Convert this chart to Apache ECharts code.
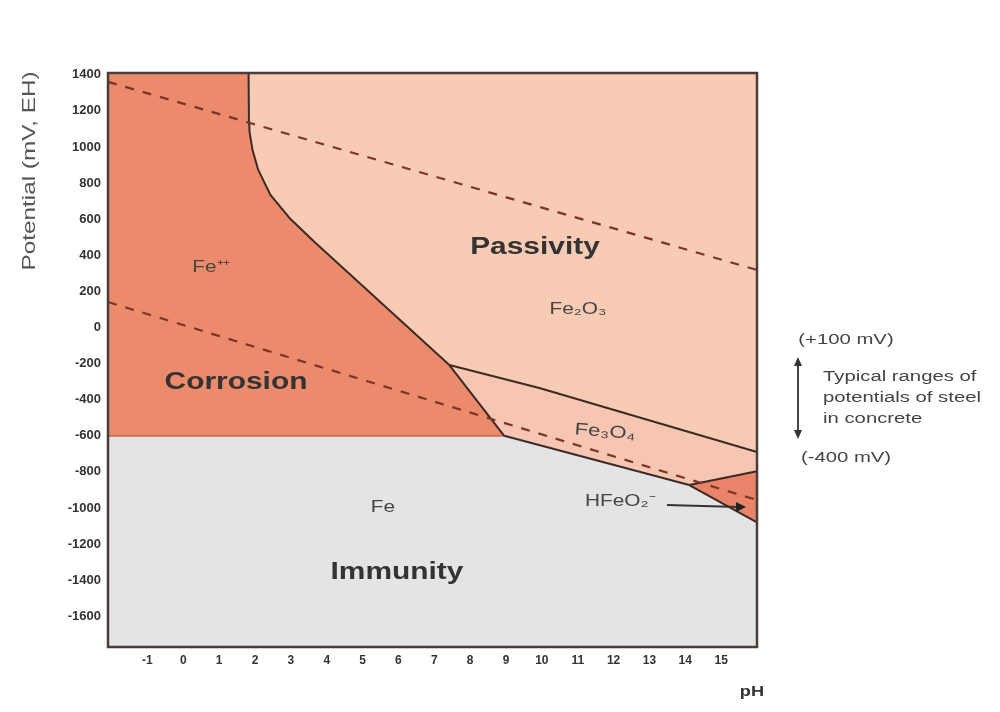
<!DOCTYPE html>
<html>
<head>
<meta charset="utf-8">
<script src="https://cdn.jsdelivr.net/npm/echarts@6/dist/echarts.min.js"></script>
<style>html,body{margin:0;padding:0;background:#fff;}#c{width:1000px;height:712px;}</style>
</head>
<body>
<div id="c"></div>
<script>
// ---- data (pH, potential mV) ----
const pHRange = [-2.1, 16];
const eRange = [-1770, 1410];
const xTicks = [-1, 0, 1, 2, 3, 4, 5, 6, 7, 8, 9, 10, 11, 12, 13, 14, 15];
const yTicks = [-1600, -1400, -1200, -1000, -800, -600, -400, -200, 0, 200, 400, 600, 800, 1000, 1200, 1400];
// Fe++ / oxides boundary (from top edge down to Fe line)
const corrosionBoundary = [[1.82, 1410], [1.83, 1160], [1.85, 1080], [1.93, 984], [2.09, 873], [2.43, 735], [2.96, 607], [3.66, 474], [7.42, -208], [8.95, -600]];
const hematiteMagnetiteLine = [[7.42, -208], [9.93, -335], [16, -690]];
const magnetiteIronLine = [[8.95, -600], [14.11, -873]];
const magnetiteHfeo2Line = [[14.11, -873], [16, -796]];
const hfeo2IronLine = [[14.11, -873], [16, -1079]];
const ironFe2Line = [[-2.1, -600], [8.95, -600]];
const oxygenLine = [[-2.1, 1361], [16, 319]];
const hydrogenLine = [[-2.1, 141], [16, -956]];

// ---- regions built from the boundaries ----
const [xMin, xMax] = pHRange, [yMin, yMax] = eRange;
const kink = corrosionBoundary.findIndex(p => p[0] === hematiteMagnetiteLine[0][0]);
const corrosionPoly = [[xMin, yMax], ...corrosionBoundary, ironFe2Line[0]];
const passivePoly = [...corrosionBoundary.slice(0, kink + 1), ...hematiteMagnetiteLine.slice(1), [xMax, yMax]];
const magnetitePoly = [...hematiteMagnetiteLine, magnetiteHfeo2Line[1], magnetiteIronLine[1], magnetiteIronLine[0]];
const hfeo2Poly = [hfeo2IronLine[0], magnetiteHfeo2Line[1], hfeo2IronLine[1]];
const immunityPoly = [ironFe2Line[0], ironFe2Line[1], magnetiteIronLine[1], hfeo2IronLine[1], [xMax, yMin], [xMin, yMin]];

function region(pts, color) {
  return {
    type: 'custom', silent: true, clip: true, z: 1,
    data: pts,
    renderItem: function (params, api) {
      if (params.dataIndex !== 0) return null;
      return { type: 'polygon', shape: { points: pts.map(p => api.coord(p)) }, style: { fill: color } };
    }
  };
}
function line(pts, color, width, dash, z) {
  return {
    type: 'line', data: pts, symbol: 'none', silent: true, z: z || 3,
    lineStyle: { color: color, width: width, type: dash ? [9, 9] : 'solid' }
  };
}

const chart = echarts.init(document.getElementById('c'), null, { renderer: 'canvas' });
const F = 'Liberation Sans, Arial, sans-serif';
const txt = (x, y, text, size, weight, color, extra, align) => Object.assign({
  type: 'text', x: x, y: y, z: 50, scaleX: 1.3,
  style: { text: text, fontSize: size, fontWeight: weight || 'normal', fill: color || '#333', fontFamily: F, align: align || 'center', verticalAlign: 'middle' }
}, extra || {});

chart.setOption({
  animation: false,
  grid: { left: 108, top: 73, width: 649, height: 574 },
  xAxis: {
    type: 'value', min: xMin, max: xMax,
    axisLine: { show: false }, splitLine: { show: false },
    axisTick: { show: true, inside: true, length: 10, customValues: xTicks, lineStyle: { color: '#444', width: 1.5 } },
    axisLabel: { customValues: xTicks, margin: 8, color: '#333', fontSize: 12, fontWeight: 'bold', fontFamily: F,
      formatter: v => String(v) }
  },
  yAxis: {
    type: 'value', min: yMin, max: yMax,
    axisLine: { show: false }, splitLine: { show: false }, axisTick: { show: false },
    axisLabel: { customValues: yTicks, margin: 7, color: '#333', fontSize: 13, fontWeight: 'bold', fontFamily: F,
      formatter: v => String(v) }
  },
  series: [
    region(immunityPoly, '#e4e4e6'),
    region(corrosionPoly, '#ec8b6c'),
    region(passivePoly, '#f8cbb5'),
    region(magnetitePoly, '#f6c6b2'),
    region(hfeo2Poly, '#e9846a'),
    line(ironFe2Line, '#d26e55', 2, false, 2),
    line(oxygenLine, '#7a3528', 2.2, true, 4),
    line(hydrogenLine, '#7a3528', 2.2, true, 4),
    line(corrosionBoundary, '#3b2a25', 2),
    line(hematiteMagnetiteLine, '#3b2a25', 2),
    line(magnetiteIronLine, '#3b2a25', 2),
    line(magnetiteHfeo2Line, '#3b2a25', 2),
    line(hfeo2IronLine, '#3b2a25', 2)
  ],
  graphic: [
    { type: 'rect', z: 60, silent: true, shape: { x: 108, y: 73, width: 649, height: 574 }, style: { fill: 'none', stroke: '#4a3c38', lineWidth: 2.5 } },
    txt(30, 171, 'Potential (mV, EH)', 19, 'normal', '#555', { rotation: Math.PI / 2, scaleX: 1.28 }),
    txt(752, 692, 'pH', 14, 'bold', '#333'),
    txt(211, 268, 'Fe⁺⁺', 16, 'normal', '#444'),
    txt(535, 248, 'Passivity', 23, 'bold', '#333'),
    txt(578, 310, 'Fe₂O₃', 16, 'normal', '#444'),
    txt(236, 383, 'Corrosion', 23, 'bold', '#333'),
    txt(605, 432, 'Fe₃O₄', 17, 'normal', '#444', { rotation: -0.08 }),
    txt(383, 508, 'Fe', 16, 'normal', '#444'),
    txt(397, 573, 'Immunity', 23, 'bold', '#333'),
    txt(620, 502, 'HFeO₂⁻', 16, 'normal', '#444'),
    { type: 'line', z: 55, shape: { x1: 667, y1: 505, x2: 738, y2: 507 }, style: { stroke: '#333', lineWidth: 2 } },
    { type: 'polygon', z: 55, shape: { points: [[746, 507], [736, 502], [736, 512]] }, style: { fill: '#222' } },
    // right annotation
    txt(846, 340, '(+100 mV)', 14, 'normal', '#444', { scaleX: 1.45 }),
    { type: 'line', z: 55, shape: { x1: 798, y1: 364, x2: 798, y2: 432 }, style: { stroke: '#444', lineWidth: 2 } },
    { type: 'polygon', z: 55, shape: { points: [[798, 357], [794, 366], [802, 366]] }, style: { fill: '#333' } },
    { type: 'polygon', z: 55, shape: { points: [[798, 439], [794, 430], [802, 430]] }, style: { fill: '#333' } },
    txt(823, 377, 'Typical ranges of', 14, 'normal', '#444', { scaleX: 1.45 }, 'left'),
    txt(823, 398, 'potentials of steel', 14, 'normal', '#444', { scaleX: 1.45 }, 'left'),
    txt(823, 419, 'in concrete', 14, 'normal', '#444', { scaleX: 1.45 }, 'left'),
    txt(846, 458, '(-400 mV)', 14, 'normal', '#444', { scaleX: 1.45 })
  ]
});
</script>
</body>
</html>
